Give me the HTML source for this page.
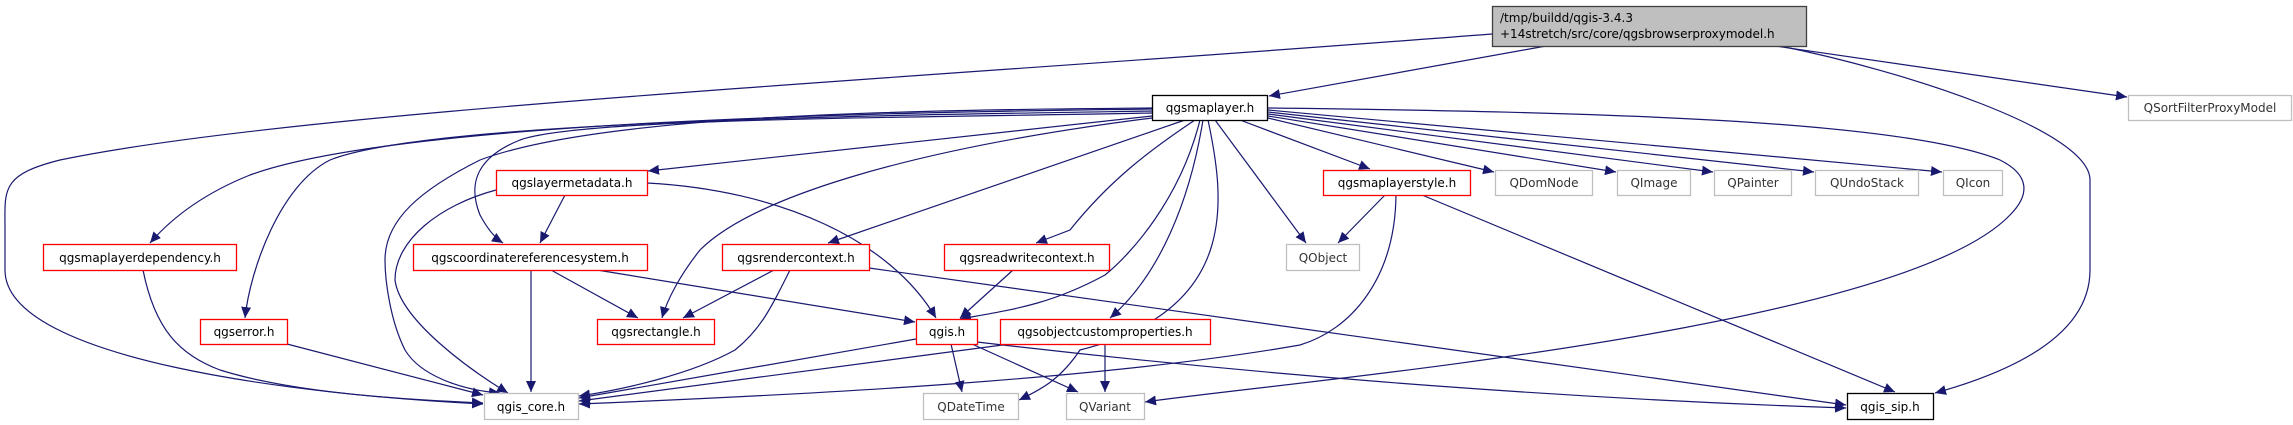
<!DOCTYPE html>
<html><head><meta charset="utf-8"><style>
html,body{margin:0;padding:0;background:#fff;}
svg{display:block;}
text{font-family:"DejaVu Sans","Liberation Sans",sans-serif;font-size:12px;}
</style></head><body>
<svg width="2293" height="425" viewBox="0 0 2293 425" xmlns="http://www.w3.org/2000/svg">
<defs>
<marker id="a" markerWidth="12" markerHeight="10" refX="11" refY="5" orient="auto" markerUnits="userSpaceOnUse">
<path d="M0,0 L11,5 L0,10 z" fill="#191970"/>
</marker>
</defs>
<g fill="none" stroke="#191970" stroke-width="1.2" marker-end="url(#a)">
<!-- root -->
<path d="M1546,46 L1269,96"/>
<path d="M1492,34 C900,80 300,110 60,160 C0,175 5,190 5,230 L5,270 C5,360 300,395 483,404"/>
<path d="M1775,46 L2127,97"/>
<path d="M1780,46 C1900,70 2090,130 2090,180 L2090,270 C2090,340 2000,375 1935,393"/>
<!-- qgsmaplayer.h -->
<path d="M1152,109 C900,112 400,120 250,175 C200,195 170,220 150,243"/>
<path d="M1152,111 C900,115 430,120 330,160 C280,185 250,270 245,318"/>
<path d="M1152,108 C900,110 600,115 480,160 C420,190 385,220 385,260 C385,280 390,320 405,350 C420,375 460,390 500,393"/>
<path d="M1152,113 C900,118 580,118 520,140 C470,160 470,190 480,215 C488,230 495,238 503,243"/>
<path d="M1152,116 L648,171"/>
<path d="M1152,118 C900,150 750,200 700,250 C680,275 667,300 662,318"/>
<path d="M1185,120 L828,243"/>
<path d="M1195,120 C1150,150 1110,180 1070,230 L1036,243"/>
<path d="M1200,120 C1180,200 1130,255 1105,275 C1050,305 1010,310 960,319"/>
<path d="M1203,120 C1190,200 1160,275 1110,318"/>
<path d="M1208,120 C1225,200 1240,310 1080,350 C1060,380 1040,390 1019,400"/>
<path d="M1215,120 L1306,243"/>
<path d="M1240,120 L1370,169"/>
<path d="M1268,118 L1494,172"/>
<path d="M1268,116 L1616,172"/>
<path d="M1268,114 L1713,172"/>
<path d="M1268,112 L1814,172"/>
<path d="M1268,110 L1942,172"/>
<path d="M1268,108 C1600,112 1900,120 2000,160 C2030,175 2030,195 2010,215 C1900,330 1300,380 1145,402"/>
<!-- qgslayermetadata.h -->
<path d="M565,195 L540,243"/>
<path d="M496,190 C440,205 395,240 395,280 C400,320 470,370 508,393"/>
<path d="M647,183 C780,190 890,240 936,318"/>
<!-- crs -->
<path d="M531,270 L531,392"/>
<path d="M551,270 L638,318"/>
<path d="M597,270 L915,322"/>
<!-- rendercontext -->
<path d="M774,270 L683,318"/>
<path d="M790,270 C770,310 760,330 735,350 C690,375 620,390 579,396"/>
<path d="M869,268 L1846,405"/>
<!-- readwrite -->
<path d="M1013,270 L960,318"/>
<!-- qgis.h -->
<path d="M916,339 L579,398"/>
<path d="M951,344 L962,392"/>
<path d="M972,344 L1078,392"/>
<path d="M977,342 C1300,380 1600,400 1846,408"/>
<!-- objectcustom -->
<path d="M1010,344 L579,401"/>
<path d="M1105,344 L1105,392"/>
<!-- maplayerstyle -->
<path d="M1385,195 L1338,243"/>
<path d="M1422,195 L1895,392"/>
<path d="M1396,195 C1395,280 1350,330 1300,345 C1100,380 800,395 579,404"/>
<!-- dependency / error -->
<path d="M143,270 C155,330 180,355 220,370 C300,395 420,400 483,403"/>
<path d="M287,344 L483,395"/>
</g>
<g stroke-width="1.3">
<rect x="1492.5" y="6.5" width="314" height="40" fill="#bfbfbf" stroke="#404040"/>
<rect x="1152.5" y="95.5" width="115" height="25" fill="#fff" stroke="#000"/>
<rect x="2128.5" y="95.5" width="163" height="25" fill="#fff" stroke="#bfbfbf"/>
<rect x="43.5" y="244.5" width="193" height="26" fill="#fff" stroke="#f00"/>
<rect x="200.5" y="319.5" width="87" height="25" fill="#fff" stroke="#f00"/>
<rect x="496.5" y="170.5" width="151" height="25" fill="#fff" stroke="#f00"/>
<rect x="413.5" y="244.5" width="234" height="26" fill="#fff" stroke="#f00"/>
<rect x="597.5" y="319.5" width="117" height="25" fill="#fff" stroke="#f00"/>
<rect x="484.5" y="393.5" width="94" height="26" fill="#fff" stroke="#bfbfbf"/>
<rect x="722.5" y="244.5" width="147" height="26" fill="#fff" stroke="#f00"/>
<rect x="944.5" y="244.5" width="165" height="26" fill="#fff" stroke="#f00"/>
<rect x="916.5" y="319.5" width="61" height="25" fill="#fff" stroke="#f00"/>
<rect x="1000.5" y="319.5" width="210" height="25" fill="#fff" stroke="#f00"/>
<rect x="1323.5" y="170.5" width="147" height="25" fill="#fff" stroke="#f00"/>
<rect x="1495.5" y="170.5" width="97" height="25" fill="#fff" stroke="#bfbfbf"/>
<rect x="1286.5" y="244.5" width="73" height="26" fill="#fff" stroke="#bfbfbf"/>
<rect x="923.5" y="393.5" width="95" height="26" fill="#fff" stroke="#bfbfbf"/>
<rect x="1066.5" y="393.5" width="78" height="26" fill="#fff" stroke="#bfbfbf"/>
<rect x="1617.5" y="170.5" width="73" height="25" fill="#fff" stroke="#bfbfbf"/>
<rect x="1714.5" y="170.5" width="77" height="25" fill="#fff" stroke="#bfbfbf"/>
<rect x="1815.5" y="170.5" width="103" height="25" fill="#fff" stroke="#bfbfbf"/>
<rect x="1943.5" y="170.5" width="59" height="25" fill="#fff" stroke="#bfbfbf"/>
<rect x="1847.5" y="393.5" width="86" height="26" fill="#fff" stroke="#000"/>
</g>
<g text-anchor="middle" fill="#000">
<text x="1500" y="22" text-anchor="start">/tmp/buildd/qgis-3.4.3</text>
<text x="1500" y="38" text-anchor="start">+14stretch/src/core/qgsbrowserproxymodel.h</text>
<text x="1210" y="112">qgsmaplayer.h</text>
<text x="2210" y="112" fill="#333">QSortFilterProxyModel</text>
<text x="140" y="262">qgsmaplayerdependency.h</text>
<text x="244" y="336">qgserror.h</text>
<text x="572" y="187">qgslayermetadata.h</text>
<text x="530" y="262">qgscoordinatereferencesystem.h</text>
<text x="656" y="336">qgsrectangle.h</text>
<text x="531" y="411">qgis_core.h</text>
<text x="796" y="262">qgsrendercontext.h</text>
<text x="1027" y="262">qgsreadwritecontext.h</text>
<text x="947" y="336">qgis.h</text>
<text x="1105" y="336">qgsobjectcustomproperties.h</text>
<text x="1397" y="187">qgsmaplayerstyle.h</text>
<text x="1544" y="187" fill="#333">QDomNode</text>
<text x="1323" y="262" fill="#333">QObject</text>
<text x="971" y="411" fill="#333">QDateTime</text>
<text x="1105" y="411" fill="#333">QVariant</text>
<text x="1654" y="187" fill="#333">QImage</text>
<text x="1753" y="187" fill="#333">QPainter</text>
<text x="1867" y="187" fill="#333">QUndoStack</text>
<text x="1973" y="187" fill="#333">QIcon</text>
<text x="1890" y="411">qgis_sip.h</text>
</g>
</svg>
</body></html>
